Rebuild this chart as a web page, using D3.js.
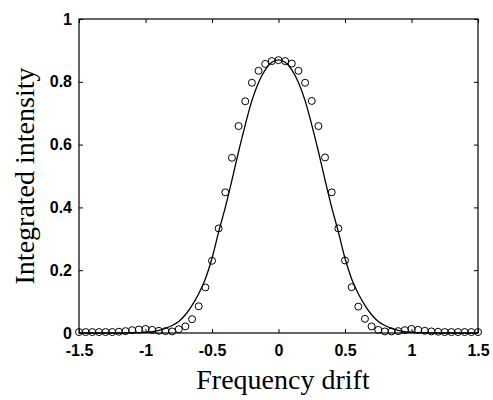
<!DOCTYPE html>
<html>
<head>
<meta charset="utf-8">
<script src="https://cdn.jsdelivr.net/npm/d3@7"></script>
<style>
  html, body { margin: 0; padding: 0; background: #fff; }
  svg { display: block; }
</style>
</head>
<body>
<svg id="chart" width="493" height="400"></svg>
<script>
// ---- data ----
const xTicks = [-1.5, -1, -0.5, 0, 0.5, 1, 1.5];
const xTickLabels = ["-1.5", "-1", "-0.5", "0", "0.5", "1", "1.5"];
const yTicks = [0, 0.2, 0.4, 0.6, 0.8, 1];
const yTickLabels = ["0", "0.2", "0.4", "0.6", "0.8", "1"];

// measured points (circles)
const pointX = [-1.5, -1.45, -1.4, -1.35, -1.3, -1.25, -1.2, -1.15, -1.1, -1.05,
  -1.0, -0.95, -0.9, -0.85, -0.8, -0.75, -0.7, -0.65, -0.6, -0.55,
  -0.5, -0.45, -0.4, -0.35, -0.3, -0.25, -0.2, -0.15, -0.1, -0.05,
  0, 0.05, 0.1, 0.15, 0.2, 0.25, 0.3, 0.35, 0.4, 0.45,
  0.5, 0.55, 0.6, 0.65, 0.7, 0.75, 0.8, 0.85, 0.9, 0.95,
  1.0, 1.05, 1.1, 1.15, 1.2, 1.25, 1.3, 1.35, 1.4, 1.45, 1.5];
const pointY = [0.003, 0.003, 0.003, 0.003, 0.003, 0.003, 0.004, 0.006, 0.009, 0.011,
  0.013, 0.010, 0.007, 0.006, 0.005, 0.012, 0.021, 0.044, 0.085, 0.145,
  0.230, 0.333, 0.448, 0.558, 0.659, 0.738, 0.797, 0.835, 0.857, 0.866,
  0.869, 0.866, 0.858, 0.835, 0.797, 0.739, 0.659, 0.559, 0.448, 0.333,
  0.231, 0.146, 0.084, 0.045, 0.021, 0.010, 0.005, 0.005, 0.006, 0.009,
  0.013, 0.010, 0.007, 0.005, 0.004, 0.003, 0.003, 0.003, 0.003, 0.003, 0.003];

// model curve (solid line)
const curveX = [-1.5, -1.4, -1.3, -1.2, -1.1, -1.0, -0.95, -0.9, -0.85, -0.8,
  -0.75, -0.7, -0.65, -0.6, -0.55, -0.5, -0.45, -0.4, -0.35, -0.3,
  -0.25, -0.2, -0.15, -0.1, -0.05, 0, 0.05, 0.1, 0.15, 0.2,
  0.25, 0.3, 0.35, 0.4, 0.45, 0.5, 0.55, 0.6, 0.65, 0.7,
  0.75, 0.8, 0.85, 0.9, 0.95, 1.0, 1.1, 1.2, 1.3, 1.4, 1.5];
const curveY = [0.0, 0.0, 0.0, 0.0, 0.001, 0.002, 0.004, 0.008, 0.015, 0.024,
  0.037, 0.058, 0.088, 0.125, 0.172, 0.238, 0.322, 0.400, 0.487, 0.578,
  0.663, 0.740, 0.798, 0.838, 0.862, 0.870, 0.862, 0.838, 0.798, 0.740,
  0.663, 0.578, 0.487, 0.400, 0.322, 0.238, 0.172, 0.125, 0.088, 0.058,
  0.037, 0.024, 0.015, 0.008, 0.004, 0.002, 0.001, 0.0, 0.0, 0.0, 0.0];

const xLabel = "Frequency drift";
const yLabel = "Integrated intensity";

// ---- drawing ----
const svg = d3.select("#chart");
const mLeft = 79, mRight = 478, mTop = 19, mBottom = 333;

const x = d3.scaleLinear().domain([-1.5, 1.5]).range([mLeft, mRight]);
const y = d3.scaleLinear().domain([0, 1]).range([mBottom, mTop]);

const tickFont = "'Liberation Sans', Arial, Helvetica, sans-serif";
const titleFont = "'Liberation Serif', 'Times New Roman', serif";

// frame
svg.append("rect")
  .attr("x", mLeft).attr("y", mTop)
  .attr("width", mRight - mLeft).attr("height", mBottom - mTop)
  .attr("fill", "none").attr("stroke", "#000").attr("stroke-width", 1.2);

function styleAxis(g) {
  g.select(".domain").remove();
  g.selectAll(".tick line").attr("stroke", "#000").attr("stroke-width", 1);
  g.selectAll(".tick text")
    .attr("fill", "#000")
    .style("font-family", tickFont)
    .style("font-size", "16px")
    .style("font-weight", "bold");
}

// bottom axis with labels, inward ticks
svg.append("g").attr("transform", `translate(0,${mBottom})`)
  .call(d3.axisBottom(x).tickValues(xTicks)
    .tickFormat((d, i) => xTickLabels[i]).tickSizeInner(-4).tickSizeOuter(0).tickPadding(12))
  .call(styleAxis);
// top axis ticks only
svg.append("g").attr("transform", `translate(0,${mTop})`)
  .call(d3.axisTop(x).tickValues(xTicks).tickFormat("").tickSizeInner(-4).tickSizeOuter(0))
  .call(styleAxis);
// left axis with labels
svg.append("g").attr("transform", `translate(${mLeft},0)`)
  .call(d3.axisLeft(y).tickValues(yTicks)
    .tickFormat((d, i) => yTickLabels[i]).tickSizeInner(-4).tickSizeOuter(0).tickPadding(7))
  .call(styleAxis);
// right axis ticks only
svg.append("g").attr("transform", `translate(${mRight},0)`)
  .call(d3.axisRight(y).tickValues(yTicks).tickFormat("").tickSizeInner(-4).tickSizeOuter(0))
  .call(styleAxis);

// curve
const curveData = curveX.map((v, i) => [v, curveY[i]]);
svg.append("path")
  .datum(curveData)
  .attr("fill", "none")
  .attr("stroke", "#000")
  .attr("stroke-width", 1.3)
  .attr("d", d3.line().x(d => x(d[0])).y(d => y(d[1])).curve(d3.curveMonotoneX));

// points
const pts = pointX.map((v, i) => [v, pointY[i]]);
svg.append("g").selectAll("circle")
  .data(pts).join("circle")
  .attr("cx", d => x(d[0]))
  .attr("cy", d => y(d[1]))
  .attr("r", 3.5)
  .attr("fill", "none")
  .attr("stroke", "#000")
  .attr("stroke-width", 1);

// axis titles
svg.append("text")
  .attr("x", 283).attr("y", 389)
  .attr("text-anchor", "middle")
  .style("font-family", titleFont)
  .style("font-size", "28px")
  .attr("fill", "#000")
  .text(xLabel);

svg.append("text")
  .attr("transform", `translate(34,${176}) rotate(-90)`)
  .attr("text-anchor", "middle")
  .style("font-family", titleFont)
  .style("font-size", "28px")
  .attr("fill", "#000")
  .text(yLabel);
</script>
</body>
</html>
